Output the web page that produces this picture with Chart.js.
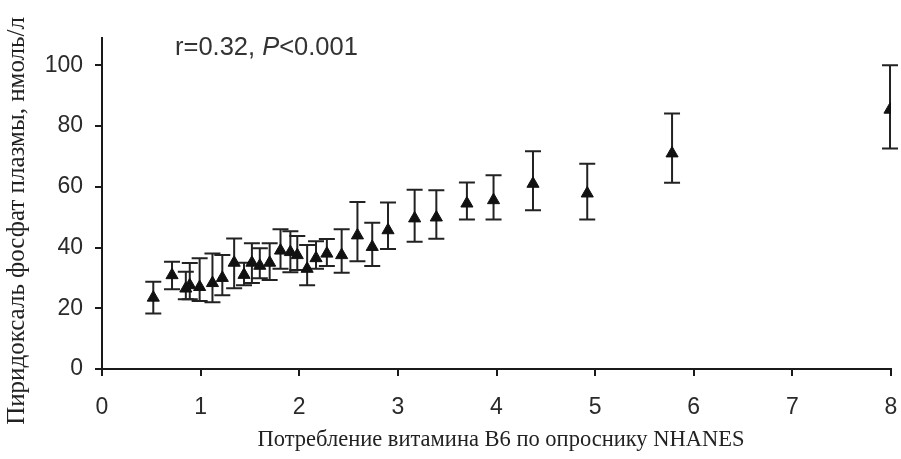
<!DOCTYPE html>
<html>
<head>
<meta charset="utf-8">
<script src="https://cdn.jsdelivr.net/npm/chart.js@4.4.1/dist/chart.umd.min.js"></script>
<style>
  html, body { margin: 0; padding: 0; background: #fff; }
  #wrap { width: 901px; height: 459px; }
</style>
</head>
<body>
<div id="wrap"><canvas id="chart" width="901" height="459"></canvas></div>
<script>
// Потребление B6 (ось X) и пиридоксаль фосфат (ось Y) с нижней/верхней границей
const intake = [0.52, 0.71, 0.85, 0.89, 0.99, 1.12, 1.22, 1.34, 1.44, 1.52, 1.60, 1.70, 1.81, 1.91, 1.98,
  2.08, 2.17, 2.28, 2.43, 2.59, 2.74, 2.90, 3.17, 3.39, 3.70, 3.97, 4.37, 4.92, 5.78, 7.99];
const plp = [23.5, 30.9, 26.5, 27.6, 27.0, 28.3, 30.0, 35.0, 31.0, 35.0, 34.0, 35.0, 39.0, 38.5, 37.5,
  33.0, 36.5, 38.0, 37.5, 44.0, 40.2, 45.7, 49.6, 49.9, 54.5, 55.6, 61.0, 57.8, 71.0, 85.4];
const plpLow = [18.3, 26.3, 23.0, 23.0, 22.4, 22.0, 24.3, 26.6, 27.6, 28.3, 29.9, 29.3, 33.0, 31.9, 32.6,
  27.6, 33.0, 33.9, 31.7, 35.5, 33.9, 39.5, 41.9, 42.9, 49.2, 49.2, 52.3, 49.2, 61.3, 72.6];
const plpHigh = [28.7, 35.3, 32.0, 34.9, 36.5, 38.0, 37.5, 43.0, 35.0, 41.4, 39.8, 41.4, 46.0, 45.4, 43.8,
  40.8, 42.1, 42.8, 46.0, 55.0, 48.2, 54.8, 59.0, 58.9, 61.4, 63.8, 71.7, 67.6, 84.1, 100.0];
const xTicks = [0, 1, 2, 3, 4, 5, 6, 7, 8];
const yTicks = [0, 20, 40, 60, 80, 100];
const xTitle = "Потребление витамина B6 по опроснику NHANES";
const yTitle = "Пиридоксаль фосфат плазмы, нмоль/л";

const ink = "#1a1a1a";
const sans = "'Liberation Sans', Arial, sans-serif";
const serif = "'Liberation Serif', 'Times New Roman', serif";

// Планки погрешностей
const errorBars = {
  id: "errorBars",
  beforeDatasetsDraw(chart) {
    const { ctx, scales: { x, y } } = chart;
    ctx.save();
    ctx.strokeStyle = "#222";
    ctx.lineWidth = 2;
    intake.forEach((v, i) => {
      const px = x.getPixelForValue(v);
      const lo = y.getPixelForValue(plpLow[i]);
      const hi = y.getPixelForValue(plpHigh[i]);
      ctx.beginPath();
      ctx.moveTo(px, lo); ctx.lineTo(px, hi);
      ctx.moveTo(px - 8, lo); ctx.lineTo(px + 8, lo);
      ctx.moveTo(px - 8, hi); ctx.lineTo(px + 8, hi);
      ctx.stroke();
    });
    ctx.restore();
  }
};

// Подписи осей и r / P
const labels = {
  id: "labels",
  afterDraw(chart) {
    const { ctx, chartArea } = chart;
    ctx.save();
    ctx.fillStyle = "#333";
    ctx.textBaseline = "middle";
    let tx = chartArea.left + 73;
    const parts = [["r=0.32, ", "normal"], ["P", "italic"], ["<0.001", "normal"]];
    parts.forEach(([t, style]) => {
      ctx.font = `${style} 25.5px ${sans}`;
      ctx.fillText(t, tx, 48);
      tx += ctx.measureText(t).width;
    });

    ctx.fillStyle = "#222";
    ctx.textAlign = "center";
    ctx.font = `22.5px ${serif}`;
    ctx.fillText(xTitle, 501, 440);

    ctx.translate(17, 221);
    ctx.rotate(-Math.PI / 2);
    ctx.font = `25px ${serif}`;
    ctx.fillText(yTitle, 0, 0);
    ctx.restore();
  }
};

new Chart(document.getElementById("chart"), {
  type: "scatter",
  data: {
    datasets: [{
      data: intake.map((v, i) => ({ x: v, y: plp[i] })),
      pointStyle: "triangle",
      radius: 7,
      backgroundColor: "#111",
      borderColor: "#111",
      borderWidth: 1
    }]
  },
  options: {
    responsive: false,
    animation: false,
    layout: { padding: { top: 38, right: 10, left: 0, bottom: 0 } },
    plugins: { legend: { display: false }, tooltip: { enabled: false } },
    scales: {
      x: {
        type: "linear",
        min: 0,
        max: 8,
        afterBuildTicks: s => { s.ticks = xTicks.map(v => ({ value: v })); },
        afterFit: s => { s.height = 90; s.paddingLeft = 0; s.paddingRight = 0; },
        grid: { drawOnChartArea: false, drawTicks: true, tickLength: 7, color: ink, lineWidth: 2 },
        border: { color: ink, width: 2 },
        ticks: { color: "#2a2a2a", font: { family: sans, size: 23 }, padding: 18 }
      },
      y: {
        min: 0,
        max: 109,
        afterBuildTicks: s => { s.ticks = yTicks.map(v => ({ value: v })); },
        afterFit: s => { s.width = 102; s.paddingTop = 0; s.paddingBottom = 0; },
        grid: { drawOnChartArea: false, drawTicks: true, tickLength: 7, color: ink, lineWidth: 2 },
        border: { color: ink, width: 2 },
        ticks: { color: "#2a2a2a", font: { family: sans, size: 23 }, padding: 12 }
      }
    }
  },
  plugins: [errorBars, labels]
});
</script>
</body>
</html>
